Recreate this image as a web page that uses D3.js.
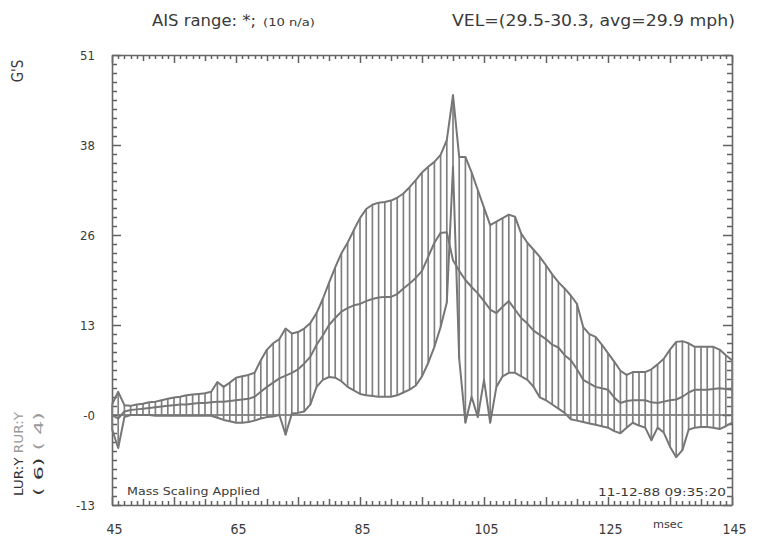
<!DOCTYPE html>
<html>
<head>
<meta charset="utf-8">
<script src="https://cdn.jsdelivr.net/npm/d3@7"></script>
<style>
html,body{margin:0;padding:0;background:#fff;}
svg text{font-family:'DejaVu Sans Condensed','Liberation Sans Narrow','DejaVu Sans',sans-serif;fill:#3a3a3a;}
</style>
</head>
<body>
<svg id="chart" width="765" height="539"></svg>
<script>
// ---- data (msec, G's) ----
const times = [45,46,47,48,49,50,51,52,53,54,55,56,57,58,59,60,61,62,63,64,65,66,67,68,69,70,71,72,73,74,75,76,77,78,79,80,81,82,83,84,85,86,87,88,89,90,91,92,93,94,95,96,97,98,99,100,101,102,103,104,105,106,107,108,109,110,111,112,113,114,115,116,117,118,119,120,121,122,123,124,125,126,127,128,129,130,131,132,133,134,135,136,137,138,139,140,141,142,143,144,145];
const upperEnv = [1.5,3.3,1.4,1.3,1.5,1.6,1.8,1.9,2.1,2.3,2.5,2.6,2.8,2.9,3.0,3.1,3.3,4.7,4.0,4.6,5.3,5.5,5.7,6.0,7.8,9.3,10.2,10.8,12.3,11.6,11.8,12.3,13.1,14.5,16.5,18.8,21.0,23.0,24.5,26.3,28.0,29.3,29.9,30.2,30.3,30.5,30.9,31.5,32.4,33.4,34.5,35.3,36.0,37.0,39.1,45.5,36.7,36.7,34.5,32.0,29.5,27.0,27.5,28.0,28.5,28.2,25.8,24.5,23.5,22.5,21.3,20.0,18.9,18.0,17.0,15.8,12.5,11.5,11.1,10.0,8.8,7.6,6.3,5.7,6.1,6.1,6.1,6.5,7.2,8.0,9.3,10.4,10.5,10.2,9.7,9.7,9.7,9.7,9.3,8.5,7.8];
const meanLine = [0.0,-0.5,0.5,0.7,0.8,0.9,1.0,1.1,1.2,1.3,1.4,1.5,1.5,1.6,1.7,1.7,1.8,1.9,1.9,2.0,2.1,2.2,2.3,2.6,3.3,4.0,4.6,5.2,5.6,6.0,6.5,7.3,8.3,10.0,11.3,12.8,13.8,14.7,15.2,15.6,15.8,16.2,16.5,16.7,16.8,16.8,17.2,18.0,18.7,19.5,20.5,22.5,24.5,25.9,26.0,22.0,20.5,19.2,18.2,17.3,16.2,15.0,14.5,15.4,16.2,15.0,13.8,13.0,12.0,11.4,10.8,10.0,9.6,8.5,7.8,6.5,5.0,4.5,4.0,3.8,3.6,2.5,1.7,2.0,2.1,2.1,2.1,1.8,1.7,1.9,2.1,2.2,2.6,3.2,3.6,3.6,3.6,3.7,3.8,3.7,3.6];
const lowerEnv = [-2.0,-4.7,-0.3,0.0,0.0,0.0,0.0,-0.1,-0.1,-0.1,-0.1,-0.1,-0.1,-0.1,-0.1,-0.1,-0.1,-0.4,-0.7,-0.9,-1.1,-1.1,-1.0,-0.8,-0.5,-0.3,-0.2,0.0,-2.8,0.2,0.3,0.5,1.5,4.0,5.0,5.4,5.3,4.8,4.0,3.5,3.0,2.8,2.7,2.6,2.6,2.6,2.8,3.2,3.6,4.2,5.5,7.4,9.7,12.5,16.0,35.3,8.0,-1.1,2.6,-0.3,5.0,-1.1,4.0,5.5,6.0,6.0,5.5,5.0,4.0,2.5,2.1,1.5,0.9,0.3,-0.6,-0.8,-1.0,-1.2,-1.4,-1.6,-1.8,-2.3,-2.6,-1.8,-1.1,-1.5,-1.8,-3.6,-1.8,-2.5,-4.5,-6.0,-5.0,-2.1,-1.8,-1.7,-1.7,-1.8,-2.0,-1.6,-1.1];

// ---- axes ----
const yTickValues = [-12.8,0,12.8,25.6,38.4,51.2];
const yTickLabels = ["-13","-0","13","26","38","51"];
const xTickValues = [45,65,85,105,125,145];
const xTickLabels = ["45","65","85","105","125","145"];

const svg = d3.select("#chart");
const L=112, R=732, T=55, B=505;
const x = d3.scaleLinear().domain([45,145]).range([L,R]);
const y = d3.scaleLinear().domain([-12.8,51.2]).range([B,T]);

const axisColor = "#666666";
const lineColor = "#767676";
const ff = "'DejaVu Sans Condensed','Liberation Sans Narrow','DejaVu Sans',sans-serif";

const minorY = d3.range(0,51).map(i => -12.8 + i*1.28);
const minorX = d3.range(45,146,1);

// inward tick marks, built as paths from the scales
const ylen = (i)=> (i%10===0 ? 9 : 5);
const xlen = (t)=> ((t-45)%10===0 ? 8 : ((t-45)%5===0 ? 6 : 4));
const p = d3.path();
minorY.forEach((d,i)=>{ const yy=Math.round(y(d))+0.5;
  p.moveTo(L,yy); p.lineTo(L+ylen(i),yy);
  p.moveTo(R,yy); p.lineTo(R-ylen(i),yy); });
minorX.forEach(t=>{ const xx=Math.round(x(t))+0.5;
  p.moveTo(xx,T); p.lineTo(xx,T+xlen(t));
  p.moveTo(xx,B); p.lineTo(xx,B-xlen(t)); });
svg.append("path").attr("d",p.toString()).attr("fill","none")
  .attr("stroke","#606060").attr("stroke-width",1.5);

// frame (axis domains) and labels via d3 axes
svg.append("g").attr("transform",`translate(${L},0)`)
  .call(d3.axisLeft(y).tickValues(yTickValues).tickSize(0).tickPadding(17).tickFormat((d,i)=>yTickLabels[i]))
  .call(g=>{g.select("path.domain").attr("stroke",axisColor).attr("stroke-width",1.6);
    g.selectAll("text").attr("font-size",13).attr("fill","#3a3a3a").attr("font-family",ff);});
svg.append("g").attr("transform",`translate(${R},0)`)
  .call(d3.axisRight(y).tickValues([]).tickSize(0))
  .call(g=>g.select("path.domain").attr("stroke",axisColor).attr("stroke-width",1.6));
svg.append("g").attr("transform",`translate(0,${T})`)
  .call(d3.axisTop(x).tickValues([]).tickSize(0))
  .call(g=>g.select("path.domain").attr("stroke",axisColor).attr("stroke-width",1.6));
svg.append("g").attr("transform",`translate(0,${B})`)
  .call(d3.axisBottom(x).tickValues(xTickValues).tickSize(0).tickPadding(19).tickFormat((d,i)=>xTickLabels[i]))
  .call(g=>{g.select("path.domain").attr("stroke",axisColor).attr("stroke-width",1.6);
    g.selectAll("text").attr("font-size",14).attr("fill","#3a3a3a").attr("dx",2).attr("font-family",ff);});

// zero line
svg.append("line").attr("x1",L).attr("x2",R).attr("y1",y(0)).attr("y2",y(0))
  .attr("stroke",axisColor).attr("stroke-width",1.6);

// ---- corridor ----
const idx = d3.range(times.length);
svg.append("g").selectAll("line").data(idx).join("line")
  .attr("x1",i=>x(times[i])).attr("x2",i=>x(times[i]))
  .attr("y1",i=>y(lowerEnv[i])).attr("y2",i=>y(upperEnv[i]))
  .attr("stroke","#808080").attr("stroke-width",1.7);

const line = d3.line().x(i=>x(times[i]));
[upperEnv, meanLine, lowerEnv].forEach(arr=>{
  svg.append("path").datum(idx)
    .attr("d", line.y(i=>y(arr[i])))
    .attr("fill","none").attr("stroke",lineColor).attr("stroke-width",2)
    .attr("stroke-linejoin","round");
});

// ---- text ----
svg.append("text").attr("x",152).attr("y",26).attr("font-size",16).attr("font-family",ff)
  .attr("textLength",104).attr("lengthAdjust","spacingAndGlyphs").text("AIS range: *;");
svg.append("text").attr("x",263).attr("y",26).attr("font-size",10.5).attr("font-family",ff)
  .attr("textLength",52).attr("lengthAdjust","spacingAndGlyphs").text("(10 n/a)");
svg.append("text").attr("x",452).attr("y",26).attr("font-size",16).attr("font-family",ff)
  .attr("textLength",283).attr("lengthAdjust","spacingAndGlyphs").text("VEL=(29.5-30.3, avg=29.9 mph)");

svg.append("text").attr("transform","translate(23,71) rotate(-90)").attr("text-anchor","middle")
  .attr("font-size",15).attr("font-family",ff).text("G'S");

const t1 = svg.append("text").attr("transform","translate(23,496) rotate(-90)")
  .attr("font-size",13).attr("font-family",ff).attr("textLength",84).attr("lengthAdjust","spacingAndGlyphs");
t1.append("tspan").style("fill","#333").text("LUR:Y ");
t1.append("tspan").style("fill","#999").text("RUR:Y");
const t2 = svg.append("text").attr("transform","translate(43,496) rotate(-90)")
  .attr("font-size",13).attr("font-family",ff).attr("textLength",84).attr("lengthAdjust","spacingAndGlyphs");
t2.append("tspan").style("fill","#333").text("( 6)   ");
t2.append("tspan").style("fill","#999").text("( 4)");

svg.append("text").attr("x",127).attr("y",495).attr("font-size",10).attr("font-family",ff)
  .attr("textLength",133).attr("lengthAdjust","spacingAndGlyphs").text("Mass Scaling Applied");
svg.append("text").attr("x",598).attr("y",496).attr("font-size",11).attr("font-family",ff)
  .attr("textLength",128).attr("lengthAdjust","spacingAndGlyphs").text("11-12-88  09:35:20");
svg.append("text").attr("x",653).attr("y",528).attr("font-size",11).attr("font-family",ff)
  .attr("textLength",30).attr("lengthAdjust","spacingAndGlyphs").text("msec");
</script>
</body>
</html>
